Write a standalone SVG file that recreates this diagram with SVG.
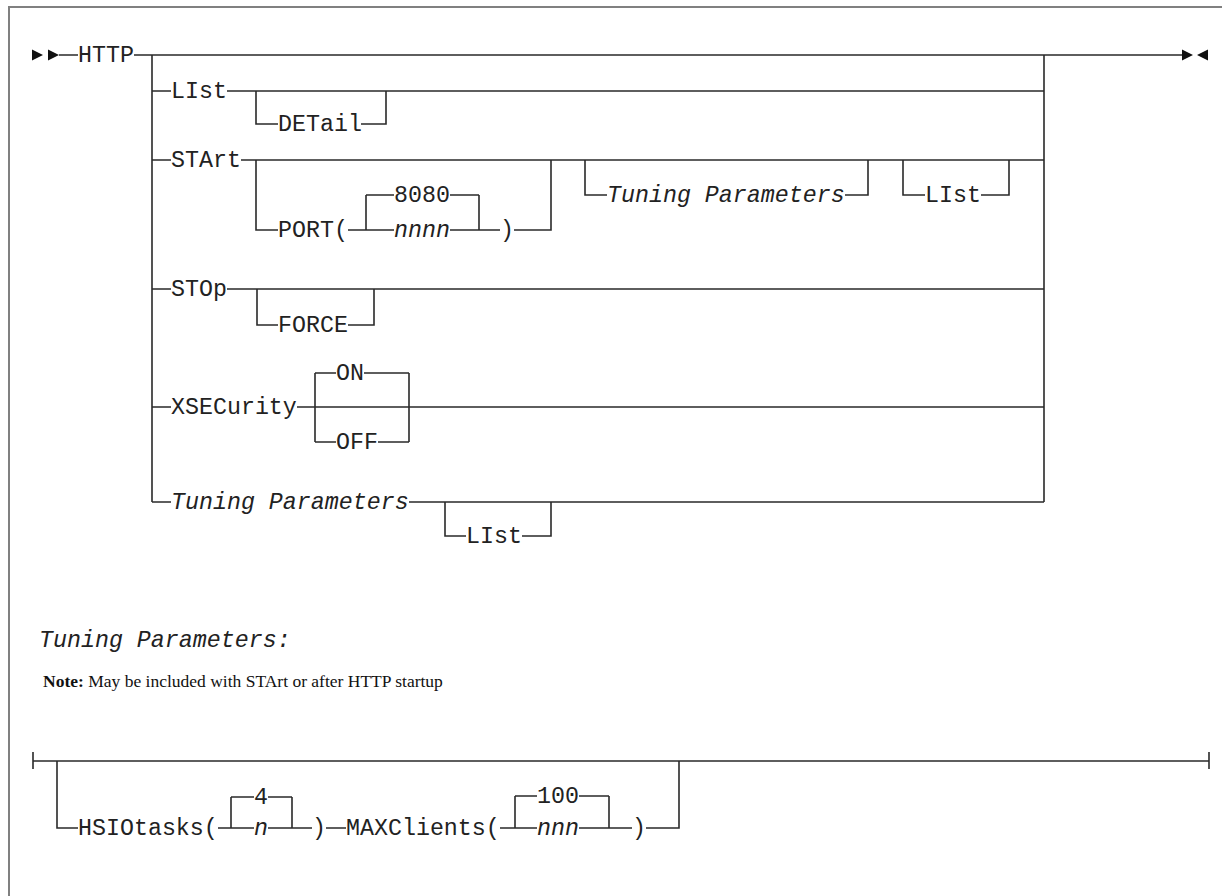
<svg xmlns="http://www.w3.org/2000/svg" width="1222" height="896" viewBox="0 0 1222 896">
<style>
.t{font-family:"Liberation Mono","DejaVu Sans Mono",monospace;font-size:23.3px;fill:#222}
.i{font-style:italic}
.ln{fill:none;stroke:#2a2a2a;stroke-width:1.6}
.ar{fill:#111}
.nt{font-family:"Liberation Serif","Times New Roman",serif;font-size:17.5px;fill:#111}
</style>
<rect x="9" y="7" width="1230" height="910" fill="#fff" stroke="#808080" stroke-width="2"/>
<g id="connectors" class="ln">
<!-- main line -->
<path d="M59 55H78M134 55H1182"/>
<path d="M152 55V502M1044 55V502"/>
<!-- LIst row -->
<path d="M152 91H171M227 91H1044M256 91V124H278M361 124H386V91"/>
<!-- STArt row -->
<path d="M152 160H171M241 160H1044"/>
<path d="M256 160V230H278M348 230H366M366 195V230M366 195H394M450 195H479M366 230H394M450 230H479M479 195V230M479 230H500M514 230H551V160"/>
<path d="M585 160V195H607M845 195H868V160"/>
<path d="M903 160V195H925M981 195H1009V160"/>
<!-- STOp row -->
<path d="M152 289H171M227 289H1044M257 289V325H278M348 325H374V289"/>
<!-- XSECurity row -->
<path d="M152 407H171M297 407H1044M315 373V442M409 373V442M315 373H336M364 373H409M315 442H336M378 442H409"/>
<!-- Tuning row -->
<path d="M152 502H171M409 502H1044M445 502V536H466M522 536H551V502"/>
<!-- bottom diagram -->
<path d="M33 752V769M1209 752V769M33 761H1209"/>
<path d="M57 761V828H78M218 828H231M231 797V828M292 797V828M231 797H254M268 797H292M231 828H254M268 828H292M292 828H312M326 828H346M500 828H515M515 796V828M609 796V828M515 796H537M579 796H609M515 828H537M579 828H609M609 828H632M646 828H679V761"/>
</g>
<g id="start-marks"><polygon class="ar" points="32,49.5 43,55 32,60.5"/><polygon class="ar" points="48,49.5 59,55 48,60.5"/></g>
<g id="end-marks"><polygon class="ar" points="1182,49.5 1193,55 1182,60.5"/><polygon class="ar" points="1208,49.5 1197,55 1208,60.5"/></g>
<g id="n-http"><text class="t" x="78" y="62">HTTP</text></g>
<g id="n-list"><text class="t" x="171" y="98">LIst</text></g>
<g id="n-detail"><text class="t" x="278" y="131">DETail</text></g>
<g id="n-start"><text class="t" x="171" y="167">STArt</text></g>
<g id="n-port"><text class="t" x="278" y="237">PORT(</text></g>
<g id="n-8080"><text class="t" x="394" y="202">8080</text></g>
<g id="n-nnnn"><text class="t i" x="394" y="237">nnnn</text></g>
<g id="n-port-close"><text class="t" x="500" y="237">)</text></g>
<g id="n-tuning1"><text class="t i" x="607" y="202">Tuning Parameters</text></g>
<g id="n-list2"><text class="t" x="925" y="202">LIst</text></g>
<g id="n-stop"><text class="t" x="171" y="296">STOp</text></g>
<g id="n-force"><text class="t" x="278" y="332">FORCE</text></g>
<g id="n-xsec"><text class="t" x="171" y="414">XSECurity</text></g>
<g id="n-on"><text class="t" x="336" y="380">ON</text></g>
<g id="n-off"><text class="t" x="336" y="449">OFF</text></g>
<g id="n-tuning2"><text class="t i" x="171" y="509">Tuning Parameters</text></g>
<g id="n-list3"><text class="t" x="466" y="543">LIst</text></g>
<g id="n-tp-label"><text class="t i" x="39" y="647">Tuning Parameters:</text></g>
<g id="n-note"><text class="nt" x="43" y="687"><tspan font-weight="bold">Note:</tspan> May be included with STArt or after HTTP startup</text></g>
<g id="n-hsio"><text class="t" x="78" y="835">HSIOtasks(</text></g>
<g id="n-4"><text class="t" x="254" y="804">4</text></g>
<g id="n-n"><text class="t i" x="254" y="835">n</text></g>
<g id="n-hsio-close"><text class="t" x="312" y="835">)</text></g>
<g id="n-maxc"><text class="t" x="346" y="835">MAXClients(</text></g>
<g id="n-100"><text class="t" x="537" y="803">100</text></g>
<g id="n-nnn"><text class="t i" x="537" y="835">nnn</text></g>
<g id="n-maxc-close"><text class="t" x="632" y="835">)</text></g>
</svg>
